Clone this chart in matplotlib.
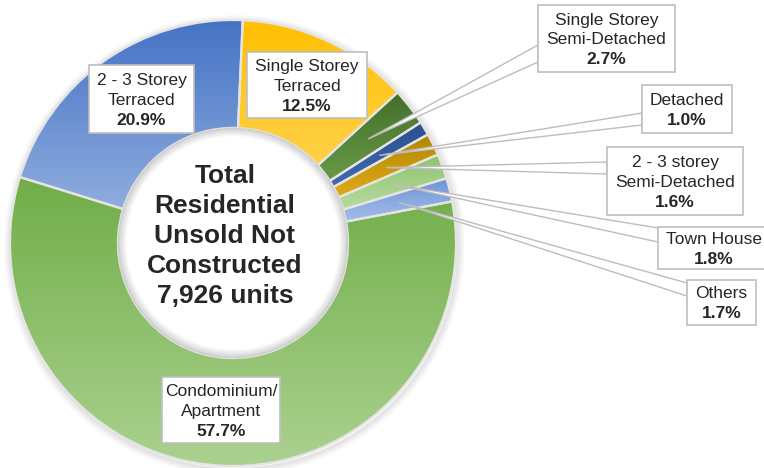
import numpy as np
import matplotlib.pyplot as plt
from matplotlib.colors import LinearSegmentedColormap
from matplotlib.patches import Circle, Polygon, Rectangle

plt.rcParams['font.family'] = ['Liberation Sans', 'DejaVu Sans']

# unsold, not yet constructed residential units by type (share of total, %)
names = ['Single Storey\nTerraced', 'Single Storey\nSemi-Detached', 'Detached',
         '2 - 3 storey\nSemi-Detached', 'Town House', 'Others',
         'Condominium/\nApartment', '2 - 3 Storey\nTerraced']
shares = [12.5, 2.7, 1.0, 1.6, 1.8, 1.7, 57.7, 20.9]
total_units = 7926

# gradient fill per slice: colour at the top, colour at the bottom
top_colors = ['#FFC000', '#446F2A', '#2B4F8E', '#B38500', '#8EC46C', '#6C93D8', '#70AD47', '#4472C4']
bottom_colors = ['#FFDA70', '#80B85C', '#5383D2', '#FFC72A', '#D0E7C2', '#C2D3EF', '#ABD290', '#9DB7E3']

W, H = 764, 468
CX, CY, R = 233, 243, 223      # donut centre and radius in pixels
HOLE = 0.516

# label boxes (left, top, right, bottom) in pixels; leader=True draws a callout
boxes = [(247, 52, 367, 118, False),
         (538, 5, 675, 72, True),
         (642, 85, 732, 133, True),
         (607, 147, 743, 215, True),
         (658, 227, 770, 269, True),
         (687, 280, 756, 325, True),
         (162, 377, 280, 443, False),
         (89, 65, 194, 133, False)]
# where each callout meets its box: (y top, y bottom) on the left side
leader_base = {1: (45, 62), 2: (113, 125), 3: (162, 174), 4: (228, 242), 5: (283, 296)}


def to_data(px, py):
    return (px - CX) / R, (CY - py) / R


fig = plt.figure(figsize=(W / 100, H / 100), dpi=100)
ax = fig.add_axes([0, 0, 1, 1])

# soft drop shadow behind the ring
for i in range(10):
    ax.add_patch(Circle((0.006, -0.010), 1.0 + i * 0.0035, fill=False,
                        ec='black', lw=1.2, alpha=0.06 * (1 - i / 10), zorder=0))

wedges, _ = ax.pie(shares, startangle=87.5, counterclock=False, radius=1,
                   wedgeprops=dict(width=1 - HOLE, edgecolor='#E4E4E4', linewidth=1.6))

grad = np.linspace(0, 1, 256).reshape(-1, 1)
for w, c0, c1 in zip(wedges, top_colors, bottom_colors):
    v = w.get_path().vertices
    cmap = LinearSegmentedColormap.from_list('g', [c0, c1])
    im = ax.imshow(grad, cmap=cmap, aspect='auto', origin='upper', interpolation='bilinear',
                   extent=[v[:, 0].min(), v[:, 0].max(), v[:, 1].min(), v[:, 1].max()], zorder=1)
    im.set_clip_path(w)
    w.set_facecolor('none')
    w.set_zorder(2)

# shadow just inside the hole
for i in range(9):
    ax.add_patch(Circle((0, 0), HOLE - 0.004 - i * 0.004, fill=False, ec='black',
                        lw=1.6, alpha=0.07 * (1 - i / 9), zorder=3))

for k, (w, name, pct) in enumerate(zip(wedges, names, shares)):
    left, top, right, bottom, leader = boxes[k]
    if leader:
        mid = np.deg2rad((w.theta1 + w.theta2) / 2)
        tip = (0.765 * np.cos(mid), 0.765 * np.sin(mid))
        y1, y2 = leader_base[k]
        ax.add_patch(Polygon([tip, to_data(left, y1), to_data(left, y2)], closed=True,
                             fc='white', ec='#BDBDBD', lw=1.0, zorder=4))
    x0, y0 = to_data(left, bottom)
    x1, y1_ = to_data(right, top)
    ax.add_patch(Rectangle((x0, y0), x1 - x0, y1_ - y0, fc='white', ec='#BFBFBF',
                           lw=1.2, zorder=5))
    lines = name.split('\n') + ['%.1f%%' % pct]
    cx_px, cy_px = (left + right) / 2, (top + bottom) / 2
    if right > W:
        cx_px = 714
    n = len(lines)
    for i, line in enumerate(lines):
        tx, ty = to_data(cx_px, cy_px + (i - (n - 1) / 2) * 20)
        ax.text(tx, ty, line, ha='center', va='center_baseline', fontsize=12.5,
                color='#262626', fontweight='bold' if i == n - 1 else 'normal', zorder=6)

cx, cy = to_data(225, 236)
ax.text(cx, cy, 'Total\nResidential\nUnsold Not\nConstructed\n%s units' % format(total_units, ','),
        ha='center', va='center', fontsize=19, fontweight='bold', color='#262626',
        linespacing=1.32, zorder=6)

ax.set_xlim(-CX / R, (W - CX) / R)
ax.set_ylim(-(H - CY) / R, CY / R)
ax.set_aspect('equal')
ax.axis('off')
fig.savefig('out.png', dpi=100)
